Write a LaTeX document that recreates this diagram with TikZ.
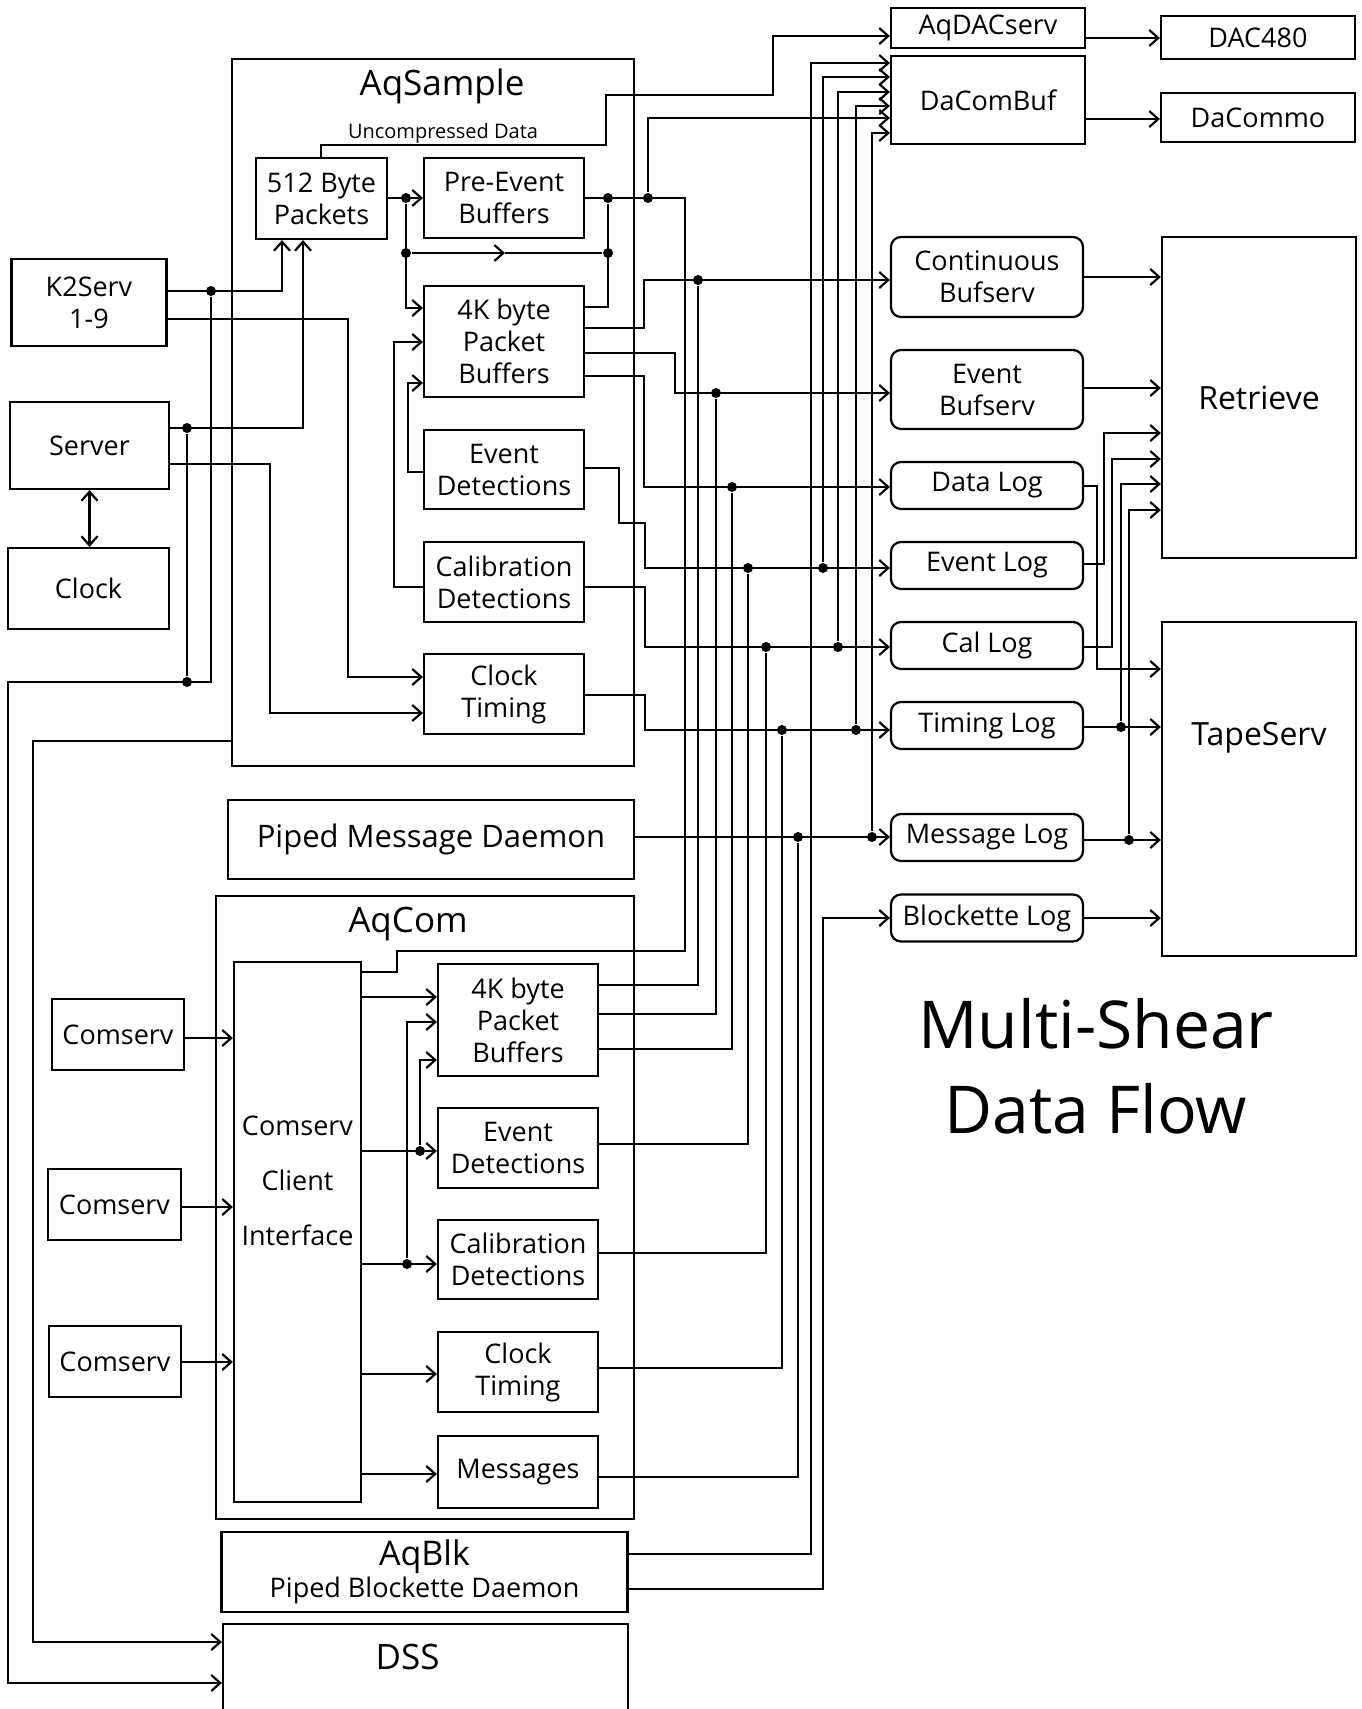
\documentclass[tikz,border=0pt]{standalone}
\usepackage{fontspec}
\setmainfont{Open Sans}
\usetikzlibrary{arrows.meta}

\newcommand{\fsNorm}{\fontsize{27}{32}\selectfont}
\newcommand{\fsBig}{\fontsize{35}{40}\selectfont}
\newcommand{\fsMid}{\fontsize{32}{36}\selectfont}
\newcommand{\fsSmall}{\fontsize{20}{24}\selectfont}
\newcommand{\fsTitle}{\fontsize{66}{85}\selectfont}

\begin{document}
\begin{tikzpicture}[x=1pt, y=-1pt, line width=2.2pt,
  box/.style={draw, inner sep=0pt, align=center, font=\fsNorm},
  rbox/.style={box, rounded corners=10pt},
  arr/.style={-{Straight Barb[length=9pt,width=16pt]}},
  dbl/.style={{Straight Barb[length=9pt,width=16pt]}-{Straight Barb[length=9pt,width=16pt]}},
  dot/.style={circle, fill, inner sep=0pt, minimum size=10pt}]
\useasboundingbox (0,0) rectangle (1362,1709);

% AqSample
\node[box, minimum width=402pt, minimum height=707pt,
  label={[font=\fsBig, anchor=center, xshift=9pt, yshift=-29pt]above:AqSample}] (aqs) at (433,412.5) {};
\node[box, minimum width=131pt, minimum height=81pt] (p512) at (321.5,198.5) {512 Byte\\Packets};
\node[box, minimum width=160pt, minimum height=80pt] (pe) at (504,198) {Pre-Event\\Buffers};
\node[box, minimum width=160pt, minimum height=111pt] (kb4) at (504,341.5) {4K byte\\Packet\\Buffers};
\node[box, minimum width=160pt, minimum height=79pt] (evdet) at (504,469.5) {Event\\Detections};
\node[box, minimum width=160pt, minimum height=80pt] (caldet) at (504,582) {Calibration\\Detections};
\node[box, minimum width=160pt, minimum height=80pt] (clk) at (504,694) {Clock\\Timing};
\node[font=\fsSmall] (uncomp) at (443,133) {Uncompressed Data};

% Sources
\node[box, minimum width=155pt, minimum height=87pt] (k2) at (89,302.5) {K2Serv\\1-9};
\node[box, minimum width=159pt, minimum height=87pt] (server) at (89.5,445.5) {Server};
\node[box, minimum width=161pt, minimum height=81pt] (clock) at (88.5,588.5) {Clock};

% DAC side
\node[box, minimum width=194pt, minimum height=40pt] (aqdac) at (988,28) {AqDACserv};
\node[box, minimum width=194pt, minimum height=43pt] (dac480) at (1258,37.5) {DAC480};
\node[box, minimum width=194pt, minimum height=88pt] (dacombuf) at (988,100) {DaComBuf};
\node[box, minimum width=194pt, minimum height=49pt] (dacommo) at (1258,117.5) {DaCommo};

% Servers and logs
\node[rbox, minimum width=192pt, minimum height=80pt] (contbuf) at (987,277) {Continuous\\Bufserv};
\node[rbox, minimum width=192pt, minimum height=79pt] (evbuf) at (987,389.5) {Event\\Bufserv};
\node[rbox, minimum width=192pt, minimum height=47pt] (datalog) at (987,485.5) {Data Log};
\node[rbox, minimum width=192pt, minimum height=47pt] (evlog) at (987,565.5) {Event Log};
\node[rbox, minimum width=192pt, minimum height=47pt] (callog) at (987,645.5) {Cal Log};
\node[rbox, minimum width=192pt, minimum height=47pt] (timlog) at (987,725.5) {Timing Log};
\node[rbox, minimum width=192pt, minimum height=47pt] (msglog) at (987,837.5) {Message Log};
\node[rbox, minimum width=192pt, minimum height=47pt] (blklog) at (987,918) {Blockette Log};
\node[box, minimum width=194pt, minimum height=321pt, font=\fsMid] (retrieve) at (1259,397.5) {Retrieve};
\node[box, minimum width=194pt, minimum height=334pt,
  label={[font=\fsMid, anchor=center, yshift=-117pt]above:TapeServ}] (tapeserv) at (1259,789) {};

% Piped Message Daemon
\node[box, minimum width=406pt, minimum height=79pt, font=\fontsize{31}{36}\selectfont] (pmd) at (431,839.5) {Piped Message Daemon};

% AqCom
\node[box, minimum width=418pt, minimum height=623pt,
  label={[font=\fsBig, anchor=center, xshift=-17pt, yshift=-29pt]above:AqCom}] (aqcom) at (425,1207.5) {};
\node[box, minimum width=127pt, minimum height=540pt,
  label={[font=\fontsize{27}{55}\selectfont, align=center, anchor=center, yshift=-220pt]above:Comserv\\Client\\Interface}] (cci) at (297.5,1232) {};
\node[box, minimum width=160pt, minimum height=112pt] (kb4c) at (518,1020) {4K byte\\Packet\\Buffers};
\node[box, minimum width=160pt, minimum height=80pt] (evdetc) at (518,1148) {Event\\Detections};
\node[box, minimum width=160pt, minimum height=79pt] (caldetc) at (518,1259.5) {Calibration\\Detections};
\node[box, minimum width=160pt, minimum height=80pt] (clkc) at (518,1372) {Clock\\Timing};
\node[box, minimum width=160pt, minimum height=72pt] (msgs) at (518,1472) {Messages};
\node[box, minimum width=132pt, minimum height=71pt] (cs1) at (118,1034.5) {Comserv};
\node[box, minimum width=133pt, minimum height=71pt] (cs2) at (114.5,1204.5) {Comserv};
\node[box, minimum width=132pt, minimum height=71pt] (cs3) at (115,1361.5) {Comserv};

% AqBlk and DSS
\node[box, minimum width=406pt, minimum height=80pt] (aqblk) at (424.5,1572) {{\fontsize{34}{40}\selectfont AqBlk}\\Piped Blockette Daemon};
\node[box, minimum width=405pt, minimum height=120pt, anchor=north,
  label={[font=\fsBig, anchor=center, xshift=-18pt, yshift=-34pt]above:DSS}] (dss) at (425.5,1623) {};

% Title
\node[font=\fsTitle, align=center] (title) at (1096,1066) {Multi-Shear\\Data Flow};

% K2Serv and Server into AqSample
\node[dot] (j1) at (211,291) {};
\node[dot] (j2) at (187,428) {};
\node[dot] (j3) at (187,682) {};
\draw[arr] (k2.east |- 0,291) -| (p512.south -| 282,0);
\draw[arr] (k2.east |- 0,319) -| (348,677) -- (clk.west |- 0,677);
\draw[arr] (server.east |- 0,428) -| (p512.south -| 303,0);
\draw[arr] (server.east |- 0,464) -| (270,713) -- (clk.west |- 0,713);
\draw[dbl] (server.south) -- (clock.north -| server.south);
\draw[arr] (j1) |- (8,682) |- (dss.west |- 0,1683);
\draw (j2) -- (j3);
\draw[arr] (aqs.west |- 0,741) -| (33,1642) -- (dss.west |- 0,1642);

% Inside AqSample
\node[dot] (j4) at (406,198) {};
\node[dot] (j5) at (406,253) {};
\node[dot] (j6) at (608,253) {};
\node[dot] (j7) at (608,198) {};
\node[dot] (j8) at (648,198) {};
\draw[arr] (p512.east |- 0,198) -- (pe.west |- 0,198);
\draw[arr] (j4) |- (kb4.west |- 0,308);
\draw[arr] (j5) -- (505,253);
\draw (505,253) -- (j6);
\draw (j7) |- (kb4.east |- 0,307);
\draw[arr] (evdet.west |- 0,472) -| (408,383) -- (kb4.west |- 0,383);
\draw[arr] (caldet.west |- 0,587) -| (394,342) -- (kb4.west |- 0,342);

% AqSample outputs
\draw (cci.east |- 0,972) -| (397,951) -| (685,198) -- (pe.east |- 0,198);
\draw[arr] (j8) |- (dacombuf.west |- 0,118);
\draw[arr] (p512.north -| 321,0) |- (606,145) |- (773,95) |- (aqdac.west |- 0,36);
\draw[arr] (kb4.east |- 0,328) -| (644,280) -- (contbuf.west |- 0,280);
\draw[arr] (kb4.east |- 0,353) -| (675,393) -- (evbuf.west |- 0,393);
\draw[arr] (kb4.east |- 0,376) -| (644,487) -- (datalog.west |- 0,487);
\draw[arr] (evdet.east |- 0,468) -| (619,523) -| (645,568) -- (evlog.west |- 0,568);
\draw[arr] (caldet.east |- 0,587) -| (645,647) -- (callog.west |- 0,647);
\draw[arr] (clk.east |- 0,695) -| (645,730) -- (timlog.west |- 0,730);
\draw[arr] (pmd.east |- 0,837) -- (msglog.west |- 0,837);

% Bus junctions
\node[dot] (b1) at (698,280) {};
\node[dot] (b2) at (716,393) {};
\node[dot] (b3) at (732,487) {};
\node[dot] (b4) at (748,568) {};
\node[dot] (b5) at (823,568) {};
\node[dot] (b6) at (766,647) {};
\node[dot] (b7) at (838,647) {};
\node[dot] (b8) at (782,730) {};
\node[dot] (b9) at (856,730) {};
\node[dot] (b10) at (798,837) {};
\node[dot] (b11) at (872,837) {};

% AqCom and AqBlk up the bus
\draw (kb4c.east |- 0,985) -| (b1);
\draw (kb4c.east |- 0,1014) -| (b2);
\draw (kb4c.east |- 0,1049) -| (b3);
\draw (evdetc.east |- 0,1144) -| (b4);
\draw (caldetc.east |- 0,1253) -| (b6);
\draw (clkc.east |- 0,1368) -| (b8);
\draw (msgs.east |- 0,1477) -| (b10);
\draw[arr] (aqblk.east |- 0,1554) -| (811,63) -- (dacombuf.west |- 0,63);
\draw[arr] (aqblk.east |- 0,1589) -| (823,918) -- (blklog.west |- 0,918);

% Logs into DaComBuf
\draw[arr] (b5) |- (dacombuf.west |- 0,77);
\draw[arr] (b7) |- (dacombuf.west |- 0,92);
\draw[arr] (b9) |- (dacombuf.west |- 0,106);
\draw[arr] (b11) |- (dacombuf.west |- 0,133);

% Right side
\node[dot] (r1) at (1121,727) {};
\node[dot] (r2) at (1129,840) {};
\draw[arr] (aqdac.east |- 0,38) -- (dac480.west |- 0,38);
\draw[arr] (dacombuf.east |- 0,119) -- (dacommo.west |- 0,119);
\draw[arr] (contbuf.east |- 0,277) -- (retrieve.west |- 0,277);
\draw[arr] (evbuf.east |- 0,388) -- (retrieve.west |- 0,388);
\draw[arr] (datalog.east |- 0,486) -| (1097,669) -- (tapeserv.west |- 0,669);
\draw[arr] (evlog.east |- 0,564) -| (1104,433) -- (retrieve.west |- 0,433);
\draw[arr] (callog.east |- 0,647) -| (1112,459) -- (retrieve.west |- 0,459);
\draw[arr] (timlog.east |- 0,727) -- (tapeserv.west |- 0,727);
\draw[arr] (r1) |- (retrieve.west |- 0,484);
\draw[arr] (msglog.east |- 0,840) -- (tapeserv.west |- 0,840);
\draw[arr] (r2) |- (retrieve.west |- 0,510);
\draw[arr] (blklog.east |- 0,918) -- (tapeserv.west |- 0,918);

% Inside AqCom
\node[dot] (c1) at (420,1151) {};
\node[dot] (c2) at (407,1264) {};
\draw[arr] (cs1.east |- 0,1038) -- (cci.west |- 0,1038);
\draw[arr] (cs2.east |- 0,1207) -- (cci.west |- 0,1207);
\draw[arr] (cs3.east |- 0,1362) -- (cci.west |- 0,1362);
\draw[arr] (cci.east |- 0,997) -- (kb4c.west |- 0,997);
\draw[arr] (cci.east |- 0,1151) -- (evdetc.west |- 0,1151);
\draw[arr] (cci.east |- 0,1264) -- (caldetc.west |- 0,1264);
\draw[arr] (c1) |- (kb4c.west |- 0,1060);
\draw[arr] (c2) |- (kb4c.west |- 0,1022);
\draw[arr] (cci.east |- 0,1374) -- (clkc.west |- 0,1374);
\draw[arr] (cci.east |- 0,1474) -- (msgs.west |- 0,1474);
\end{tikzpicture}
\end{document}
